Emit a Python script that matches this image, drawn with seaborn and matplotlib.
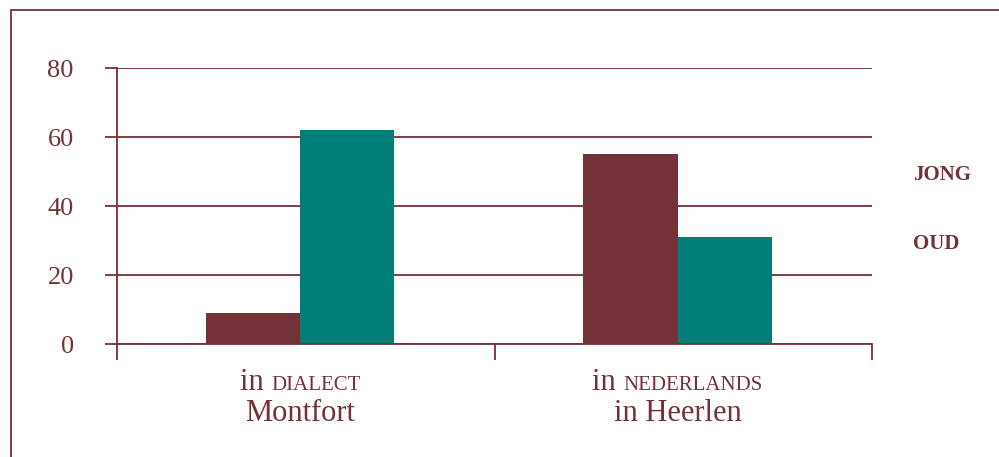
import matplotlib
matplotlib.use("Agg")
import matplotlib.pyplot as plt
from matplotlib.lines import Line2D
from matplotlib.transforms import IdentityTransform
import seaborn as sns
import pandas as pd

# data
categories = ["dialect", "nederlands"]
groups = ["jong", "oud"]
jong = [9, 55]
oud = [62, 31]
label_pre = ["in ", "in "]
label_caps = ["DIALECT", "NEDERLANDS"]
label_place = ["Montfort", "in Heerlen"]
y_ticks = [0, 20, 40, 60, 80]

wine = "#733238"
teal = "#007f78"

df = pd.DataFrame({
    "cat": categories * 2,
    "group": [groups[0]] * 2 + [groups[1]] * 2,
    "value": jong + oud,
})

sns.set_style("white")
plt.rcParams["font.family"] = ["Liberation Serif", "DejaVu Serif"]

fig = plt.figure(figsize=(9.99, 4.57), dpi=100)
ax = fig.add_axes([0.117, 0.247, 0.756, 0.604])

sns.barplot(data=df, x="cat", y="value", hue="group", order=categories,
            hue_order=groups, palette=[wine, teal], width=0.5,
            saturation=1, linewidth=0, legend=False, ax=ax)

x_lo, x_hi = -0.485, 1.515
ax.set_xlim(x_lo, x_hi)
ax.set_ylim(0, 80)
ax.set_yticks(y_ticks)
ax.set_yticklabels([str(v) for v in y_ticks], fontsize=19, color=wine)
ax.set_axisbelow(True)
ax.yaxis.grid(True, color=wine, lw=1.3)
ax.tick_params(axis="y", left=True, length=9, width=1.3, color=wine, pad=22,
               direction="out")
ax.set_xticks([])
ax.set_xticks([x_lo, (x_lo + x_hi) / 2, x_hi], minor=True)
ax.tick_params(axis="x", which="minor", bottom=True, length=11.5, width=1.3,
               color=wine, direction="out")
ax.set_xlabel("")
ax.set_ylabel("")
for s in ["top", "right"]:
    ax.spines[s].set_visible(False)
for s in ["left", "bottom"]:
    ax.spines[s].set_color(wine)
    ax.spines[s].set_linewidth(1.3)

# category labels: "in" plus small caps word, place name below
fig.canvas.draw()
renderer = fig.canvas.get_renderer()
for i in range(len(categories)):
    cx = ax.transData.transform((i, 0))[0]
    t1 = fig.text(0, 0, label_pre[i], fontsize=22, color=wine,
                  va="baseline", ha="left", transform=IdentityTransform())
    t2 = fig.text(0, 0, label_caps[i], fontsize=15, color=wine,
                  va="baseline", ha="left", transform=IdentityTransform())
    w1 = t1.get_window_extent(renderer).width
    w2 = t2.get_window_extent(renderer).width
    x0 = cx - (w1 + w2) / 2
    t1.set_position((x0, 67))
    t2.set_position((x0 + w1, 67))
    fig.text(cx, 36, label_place[i], fontsize=22, color=wine,
             va="baseline", ha="center", transform=IdentityTransform())

# legend as plain text
for j, g in enumerate(groups):
    fig.text(0.914, 0.618 - j * 0.151, g.upper(), fontsize=15,
             fontweight="bold", color=wine, ha="left", va="center")

# frame lines at top and left
fig.add_artist(Line2D([0.011, 1.0], [0.978, 0.978], color=wine, lw=1.3,
                      transform=fig.transFigure))
fig.add_artist(Line2D([0.011, 0.011], [0.0, 0.978], color=wine, lw=1.3,
                      transform=fig.transFigure))

fig.savefig("out.png", dpi=100)
